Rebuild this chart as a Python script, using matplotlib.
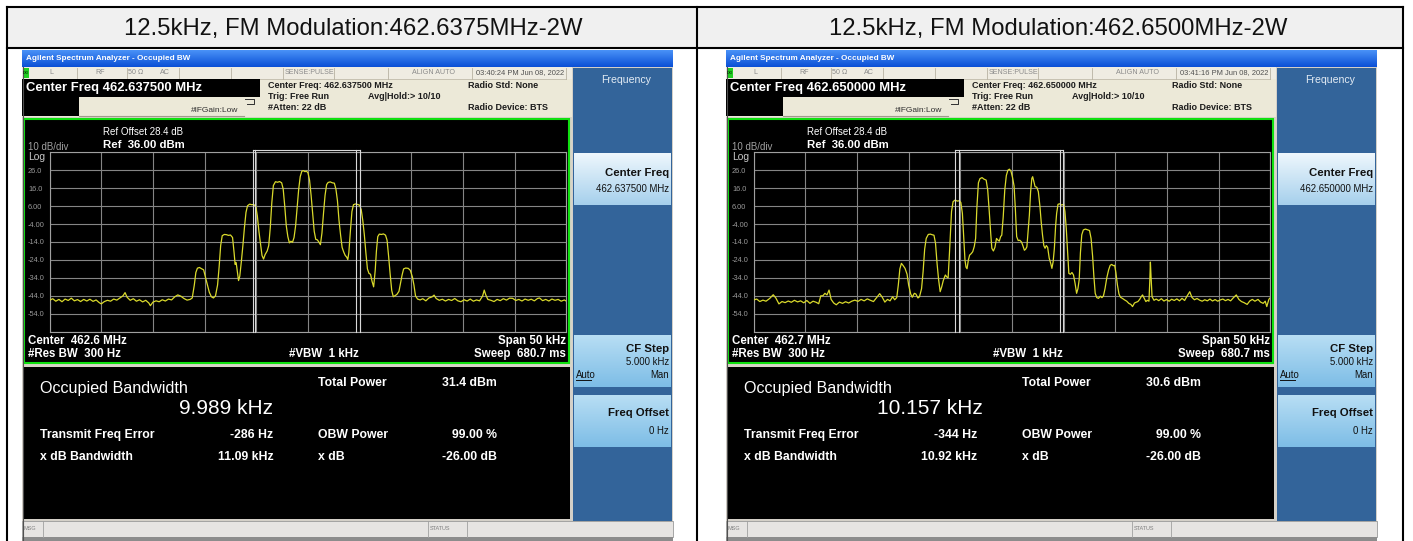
import numpy as np
import matplotlib
matplotlib.use("Agg")
import matplotlib.pyplot as plt
from matplotlib.patches import Rectangle
from matplotlib.colors import to_rgb

plt.rcParams['font.family'] = ['Liberation Sans', 'DejaVu Sans']

# ---------------- data ----------------
panel_titles = ["12.5kHz, FM Modulation:462.6375MHz-2W",
                "12.5kHz, FM Modulation:462.6500MHz-2W"]
center_freqs = ["462.637500 MHz", "462.650000 MHz"]
center_short = ["462.6 MHz", "462.7 MHz"]
timestamps = ["03:40:24 PM Jun 08, 2022", "03:41:16 PM Jun 08, 2022"]
obw_values = ["9.989 kHz", "10.157 kHz"]
freq_errors = ["-286 Hz", "-344 Hz"]
total_powers = ["31.4 dBm", "30.6 dBm"]
xdb_bandwidths = ["11.09 kHz", "10.92 kHz"]
obw_power = "99.00 %"
x_db = "-26.00 dB"
ref_level = 36.0
db_per_div = 10
span_khz = 50
y_tick_labels = ["26.0", "16.0", "6.00", "-4.00", "-14.0", "-24.0", "-34.0", "-44.0", "-54.0"]
marker_khz = [[-5.34, -5.13, 4.61, 5.03], [-5.49, -5.15, 4.63, 4.90]]

trace1_khz = [
    -25.0, -24.7, -24.4, -24.1, -23.8, -23.5, -23.2, -22.9, -22.6, -22.3,
    -22.0, -21.7, -21.4, -21.1, -20.8, -20.5, -20.2, -20.0, -19.7, -19.4,
    -19.1, -18.8, -18.5, -18.2, -17.9, -17.7, -17.5, -17.2, -16.9, -16.6,
    -16.3, -16.0, -15.7, -15.4, -15.25, -15.0, -14.7, -14.4, -14.1, -13.8,
    -13.5, -13.2, -12.9, -12.6, -12.3, -12.0, -11.7, -11.4, -11.2,
    -11.0, -10.85, -10.7, -10.5, -10.3, -10.1, -9.95, -9.75, -9.55, -9.35, -9.15, -8.95, -8.75,
    -8.6, -8.45, -8.3, -8.1, -7.9, -7.7, -7.5, -7.3, -7.15, -7.05, -6.95, -6.85, -6.72, -6.6, -6.45, -6.3,
    -6.15, -6.0, -5.85, -5.65, -5.45, -5.25, -5.05, -4.9, -4.75, -4.6, -4.45, -4.3, -4.15, -3.95, -3.8,
    -3.65, -3.5, -3.35, -3.15, -2.95, -2.75, -2.55, -2.4, -2.25, -2.1, -1.95, -1.8, -1.65, -1.5, -1.35, -1.2,
    -1.05, -0.9, -0.75, -0.6, -0.45, -0.3, -0.15, 0.0, 0.15, 0.3, 0.45, 0.6, 0.75, 0.9, 1.05, 1.2, 1.35, 1.5, 1.65,
    1.8, 1.95, 2.15, 2.35, 2.55, 2.7, 2.85, 3.0, 3.15, 3.3, 3.45, 3.6, 3.75, 3.85, 3.95, 4.1,
    4.25, 4.4, 4.6, 4.8, 5.0, 5.15, 5.3, 5.45, 5.6, 5.75, 5.9, 6.05, 6.2, 6.35, 6.5,
    6.62, 6.75, 6.9, 7.1, 7.3, 7.5, 7.65, 7.8, 7.95, 8.1, 8.25, 8.4, 8.6, 8.8, 8.95,
    9.1, 9.25, 9.45, 9.7, 9.9, 10.1, 10.25, 10.4, 10.6,
    10.85, 11.1, 11.4, 11.7, 12.0, 12.2, 12.4, 12.7, 13.0, 13.3,
    13.6, 13.9, 14.2, 14.5, 14.8, 15.1, 15.4, 15.7, 16.0, 16.3,
    16.6, 16.9, 17.05, 17.2, 17.4, 17.7, 18.0, 18.3, 18.6, 18.9,
    19.2, 19.5, 19.8, 20.1, 20.4, 20.7, 21.0, 21.3, 21.6, 21.9,
    22.2, 22.4, 22.7, 23.0, 23.3, 23.6, 23.9, 24.2, 24.5, 24.8, 25.0]
trace1_dbm = [
    -46.5, -45.6, -47.0, -46.0, -47.3, -45.8, -46.6, -45.3, -46.8, -46.1,
    -47.2, -46.0, -46.9, -45.9, -47.1, -46.3, -47.8, -48.5, -47.2, -46.5,
    -47.0, -45.8, -46.4, -45.2, -44.0, -42.2, -44.8, -46.5, -45.6, -47.0,
    -46.2, -47.4, -46.5, -48.0, -49.5, -47.5, -46.8, -47.3, -46.2, -46.9,
    -45.8, -46.3, -44.6, -43.5, -44.2, -45.5, -46.4, -46.0, -45.2,
    -38.0, -31.0, -28.6, -28.2, -28.9, -29.5, -33.0, -37.5, -42.0, -44.5, -45.2, -44.0, -38.0,
    -28.0, -16.0, -10.5, -9.8, -9.9, -10.3, -10.1, -11.5, -20.0, -26.5, -25.5, -30.0, -35.5, -33.0, -25.0, -16.0,
    -6.0, 2.5, 6.2, 7.1, 6.8, 6.9, 5.8, 0.5, -8.0, -15.0, -21.5, -23.5, -21.0, -19.0, -16.0,
    -6.0, 8.0, 17.5, 19.6, 19.3, 19.7, 19.0, 15.5, 6.0, -5.0, -11.0, -14.5, -13.6, -14.2, -11.5, -5.0,
    5.0, 15.5, 22.5, 25.4, 25.8, 25.2, 25.5, 24.5, 20.5, 12.0, 2.0, -8.0, -12.5, -12.8, -14.0, -15.5, -9.0, 2.0, 12.0,
    18.0, 19.2, 19.5, 19.0, 18.8, 15.5, 9.0, -2.0, -10.0, -17.0, -19.5, -21.5, -22.5, -23.8, -20.0, -8.0,
    3.0, 6.8, 7.2, 6.9, 6.5, 4.0, -2.0, -10.0, -20.0, -29.0, -31.5, -32.0, -36.0, -39.0, -30.0,
    -19.0, -11.0, -9.6, -9.8, -9.5, -10.2, -13.0, -22.0, -32.0, -41.0, -44.5, -44.0, -43.2, -41.5, -37.0,
    -32.5, -29.0, -28.5, -28.7, -29.8, -33.5, -38.0, -44.0, -45.8,
    -46.3, -45.6, -46.8, -45.2, -44.6, -43.6, -45.5, -46.5, -45.9, -46.9,
    -46.0, -46.6, -45.5, -46.8, -47.3, -46.2, -46.9, -45.8, -47.0, -46.3,
    -46.8, -44.0, -40.8, -43.5, -46.0, -46.5, -47.2, -46.0, -46.7, -45.6,
    -46.4, -45.3, -45.4, -46.6, -46.0, -46.9, -45.8, -46.5, -45.9, -46.8,
    -45.5, -45.2, -46.7, -46.0, -46.9, -45.8, -46.5, -46.0, -47.0, -46.3, -47.0]

trace2_khz = [
    -25.0, -24.7, -24.4, -24.1, -23.8, -23.45, -23.1, -22.85, -22.55, -22.25,
    -21.95, -21.65, -21.35, -21.05, -20.75, -20.45, -20.15, -19.85, -19.55, -19.25,
    -18.95, -18.7, -18.5, -18.3, -18.1, -17.9, -17.7, -17.5, -17.25, -17.0,
    -16.7, -16.4, -16.1, -15.8, -15.5, -15.2, -14.9, -14.6, -14.3, -14.0,
    -13.7, -13.4, -13.1, -12.8, -12.55, -12.3, -12.05, -11.8, -11.55, -11.35, -11.15,
    -11.0, -10.85, -10.7, -10.55, -10.35, -10.15, -10.0, -9.8, -9.65, -9.45, -9.3, -9.1, -8.95,
    -8.75, -8.6, -8.45, -8.3, -8.1, -7.9, -7.7, -7.55, -7.4, -7.25, -7.1, -6.95, -6.8, -6.65, -6.45, -6.3, -6.18,
    -6.05, -5.95, -5.85, -5.7, -5.5, -5.3, -5.1, -4.95, -4.8, -4.68, -4.55, -4.45, -4.35, -4.22, -4.1, -3.95, -3.8, -3.65, -3.52,
    -3.4, -3.25, -3.1, -2.9, -2.7, -2.5, -2.35, -2.2, -2.05, -1.95, -1.8, -1.65, -1.5, -1.35, -1.23, -1.1, -0.99,
    -0.85, -0.7, -0.55, -0.4, -0.25, -0.1, 0.05, 0.2, 0.32, 0.45, 0.6, 0.75, 0.92, 1.05, 1.2, 1.32, 1.44, 1.56, 1.68,
    1.8, 1.92, 2.0, 2.1, 2.23, 2.4, 2.55, 2.7, 2.82, 2.95, 3.08, 3.2, 3.32, 3.45, 3.6, 3.75, 3.86, 3.98, 4.1,
    4.22, 4.32, 4.45, 4.6, 4.8, 5.0, 5.12, 5.25, 5.38, 5.5, 5.65, 5.8, 5.95, 6.1, 6.25, 6.38, 6.5,
    6.62, 6.75, 6.9, 7.1, 7.3, 7.5, 7.65, 7.8, 7.92, 8.05, 8.2, 8.37, 8.55, 8.7, 8.85, 9.0, 9.17,
    9.35, 9.5, 9.65, 9.8, 9.93, 10.05, 10.2, 10.35, 10.5, 10.7, 10.9, 11.1, 11.3, 11.5, 11.66, 11.85,
    12.0, 12.18, 12.35, 12.5, 12.63, 12.8, 12.95, 13.1,
    13.25, 13.33, 13.39, 13.45, 13.55, 13.74,
    13.95, 14.2, 14.45, 14.7, 14.95, 15.2, 15.45, 15.7, 15.95, 16.2,
    16.45, 16.7, 16.95, 17.2, 17.4, 17.65, 17.9, 18.15, 18.4, 18.65,
    18.9, 19.15, 19.4, 19.65, 19.9, 20.15, 20.4, 20.65, 20.9, 21.15,
    21.4, 21.7, 21.95, 22.2, 22.45, 22.75, 23.0, 23.25, 23.5, 23.8,
    24.05, 24.3, 24.5, 24.65, 24.85, 25.0]
trace2_dbm = [
    -46.3, -45.8, -47.2, -46.4, -47.0, -45.5, -43.4, -45.2, -48.5, -47.2,
    -47.8, -46.9, -47.6, -46.5, -47.4, -46.8, -47.9, -46.6, -48.2, -47.0,
    -47.6, -48.4, -44.0, -44.0, -42.6, -43.5, -40.8, -46.0, -48.0, -49.0,
    -47.5, -48.2, -47.3, -48.0, -47.0, -46.4, -47.1, -46.0, -46.8, -45.7,
    -46.5, -47.2, -45.0, -42.8, -44.8, -47.5, -46.0, -46.8, -44.5, -46.2, -45.0,
    -38.0, -29.0, -25.9, -27.0, -28.7, -32.0, -38.0, -43.0, -44.8, -42.6, -43.0, -45.2, -44.5,
    -40.0, -30.5, -18.0, -12.0, -9.8, -9.6, -10.0, -10.2, -14.7, -26.0, -35.0, -41.7, -39.0, -35.5, -32.4, -33.5, -34.0,
    -20.0, -8.0, 3.0, 8.5, 9.4, 8.8, 9.0, 8.0, 2.0, -10.0, -24.0, -28.0, -28.9, -24.0, -21.3, -20.5, -19.4, -16.5, -12.0,
    5.0, 19.0, 21.3, 21.9, 21.0, 20.5, 15.0, 3.0, -10.0, -17.5, -19.0, -17.0, -12.0, -13.0, -13.5, -11.0, -10.2,
    0.0, 15.0, 23.0, 26.0, 26.6, 25.5, 22.0, 17.2, 5.0, -11.0, -13.2, -13.0, -14.0, -16.0, -18.6, -18.0, -16.7, -8.0, 1.0,
    14.0, 21.5, 22.4, 20.0, 16.9, 16.5, 14.0, 6.0, -2.5, -10.0, -16.0, -17.5, -16.0, -17.0, -23.0, -26.0, -28.7, -25.0, -17.5,
    -5.0, 2.0, 7.0, 7.3, 6.6, 7.0, 3.0, -6.4, -20.0, -31.5, -32.0, -31.0, -32.4, -37.0, -42.6, -40.0, -35.0,
    -20.0, -10.0, -7.3, -6.8, -7.2, -7.6, -12.0, -22.0, -33.0, -42.6, -45.0, -45.4, -44.2, -45.0, -44.0, -40.0, -34.0,
    -29.5, -27.0, -26.5, -27.2, -27.0, -31.0, -38.0, -43.0, -44.8, -45.5, -46.3, -47.0, -48.2, -48.8, -50.0, -48.0,
    -47.6, -47.2, -46.0, -44.5, -43.5, -45.5, -47.2, -46.5,
    -47.0, -36.0, -25.2, -33.0, -44.5, -46.5,
    -45.8, -46.7, -45.6, -46.9, -46.1, -47.0, -45.9, -46.6, -45.7, -46.8,
    -45.4, -46.6, -44.0, -41.7, -44.8, -46.2, -45.5, -46.4, -47.0, -46.2,
    -46.8, -45.8, -46.9, -46.1, -47.0, -46.3, -45.8, -46.7, -46.0, -46.8,
    -45.2, -43.5, -46.0, -47.2, -47.8, -48.8, -46.9, -46.0, -47.0, -46.0,
    -47.5, -48.2, -47.0, -50.0, -46.0, -45.0]

traces_khz = [trace1_khz, trace2_khz]
traces_dbm = [trace1_dbm, trace2_dbm]

# ---------------- figure ----------------
W, H = 1413, 541
fig = plt.figure(figsize=(W / 100, H / 100), dpi=100)
bg = fig.add_axes([0, 0, 1, 1])
bg.set_xlim(0, W)
bg.set_ylim(H, 0)
bg.axis('off')


def rect(x, y, w, h, fc, ec='none', lw=0, z=1):
    bg.add_patch(Rectangle((x, y), w, h, facecolor=fc, edgecolor=ec, linewidth=lw, zorder=z))


def vgrad(x, y, w, h, c_top, c_bot, z=1.5):
    t = np.linspace(0, 1, 64)[:, None, None]
    arr = (1 - t) * np.array(to_rgb(c_top)) + t * np.array(to_rgb(c_bot))
    bg.imshow(arr, extent=(x, x + w, y + h, y), aspect='auto', interpolation='bilinear', zorder=z)


def tx(x, y, s, size, color='white', weight='normal', ha='left', va='center', z=5, **kw):
    bg.text(x, y, s, fontsize=size, color=color, fontweight=weight, ha=ha, va=va, zorder=z, **kw)


# header row of the table
rect(7, 7, 1396, 41, '#f0f0f0', z=1)
for i, cx in enumerate([353, 1058]):
    tx(cx, 28.5, panel_titles[i], 17.2, color='#111111', ha='center')
lw_tab = 1.5
bg.plot([7, 1403], [7, 7], color='black', lw=lw_tab, zorder=6)
bg.plot([7, 1403], [48, 48], color='black', lw=lw_tab, zorder=6)
for xv in [7, 697, 1403]:
    bg.plot([xv, xv], [7, H], color='black', lw=lw_tab, zorder=6)


def draw_screen(i, X0):
    # background
    rect(X0, 50, 651, 491, '#d4d0c8', z=1)
    # title bar
    vgrad(X0, 50, 651, 17, '#4a92f7', '#0a4fd6')
    tx(X0 + 3.5, 58.5, "Agilent Spectrum Analyzer - Occupied BW", 5.9, weight='bold')
    # status row
    rect(X0, 67, 550, 12, '#efece2', z=2)
    for sx in [55, 105, 157, 209, 260.5, 312, 366, 450, 544]:
        bg.plot([X0 + sx, X0 + sx], [67.5, 78.5], color='#b8b2a2', lw=0.6, zorder=3)
    bg.plot([X0, X0 + 544], [78.8, 78.8], color='#b8b2a2', lw=0.5, zorder=3)
    rect(X0 + 0.5, 68, 6.5, 10, '#22d022', z=3)
    tx(X0 + 3.7, 73, "LXI", 2.6, color='#003300', ha='center', weight='bold')
    for s, sx in [("L", 29.5), ("RF", 78), ("50 \u03a9", 114), ("AC", 143),
                  ("SENSE:PULSE", 287), ("ALIGN AUTO", 412)]:
        tx(X0 + sx, 73, s, 5.1, color='#8a8a8a', ha='center')
    tx(X0 + 498, 73, timestamps[i], 5.4, color='#505050', ha='center')
    # info area
    rect(X0, 79, 550, 39, '#ece9d8', z=2)
    rect(X0, 79, 238, 18, 'black', z=3)
    tx(X0 + 3.5, 88, "Center Freq " + center_freqs[i], 9.4, weight='bold')
    rect(X0, 97, 57, 19, 'black', z=3)
    bg.plot([X0 + 57, X0 + 222], [116.3, 116.3], color='#a09a8c', lw=0.8, zorder=3)
    tx(X0 + 193, 111, "#IFGain:Low", 6.0, color='#303030', ha='center')
    bg.plot([X0 + 223, X0 + 232, X0 + 232, X0 + 225], [99, 99, 104, 104], color='#303030', lw=0.7, zorder=4)
    tx(X0 + 245.5, 85, "Center Freq: " + center_freqs[i], 6.5, color='#1c1c1c', weight='bold')
    tx(X0 + 245.5, 96.5, "Trig: Free Run", 6.5, color='#1c1c1c', weight='bold')
    tx(X0 + 245.5, 107.5, "#Atten: 22 dB", 6.5, color='#1c1c1c', weight='bold')
    tx(X0 + 346, 96.5, "Avg|Hold:> 10/10", 6.5, color='#1c1c1c', weight='bold')
    tx(X0 + 446, 85, "Radio Std: None", 6.5, color='#1c1c1c', weight='bold')
    tx(X0 + 446, 107.5, "Radio Device: BTS", 6.5, color='#1c1c1c', weight='bold')
    # graph frame
    rect(X0, 117, 550, 250, '#d8d4c8', z=2)
    rect(X0 + 1.5, 118.5, 545.5, 244, 'black', ec='#10e010', lw=1.5, z=3)
    tx(X0 + 81, 132, "Ref Offset 28.4 dB", 7.0)
    tx(X0 + 81, 145, "Ref  36.00 dBm", 8.2, weight='bold')
    tx(X0 + 6, 146.5, "10 dB/div", 7.0, color='#a0a0a0')
    tx(X0 + 6, 156.5, "Log", 7.4, color='#c8c8c8')
    tx(X0 + 6, 341, "Center  " + center_short[i], 8.3, weight='bold')
    tx(X0 + 6, 354, "#Res BW  300 Hz", 8.3, weight='bold')
    tx(X0 + 301.5, 354, "#VBW  1 kHz", 8.3, weight='bold', ha='center')
    tx(X0 + 544, 341, "Span %d kHz" % span_khz, 8.3, weight='bold', ha='right')
    tx(X0 + 544, 354, "Sweep  680.7 ms", 8.3, weight='bold', ha='right')
    # results panel
    rect(X0 + 1.5, 367, 546.5, 152, 'black', z=3)
    tx(X0 + 17.5, 388.5, "Occupied Bandwidth", 11.6)
    tx(X0 + 204, 408.5, obw_values[i], 15.0, ha='center')
    tx(X0 + 296, 383.5, "Total Power", 8.8, weight='bold')
    tx(X0 + 475, 383.5, total_powers[i], 8.8, weight='bold', ha='right')
    tx(X0 + 17.5, 435, "Transmit Freq Error", 8.8, weight='bold')
    tx(X0 + 251.5, 435, freq_errors[i], 8.8, weight='bold', ha='right')
    tx(X0 + 296, 435, "OBW Power", 8.8, weight='bold')
    tx(X0 + 475, 435, obw_power, 8.8, weight='bold', ha='right')
    tx(X0 + 17.5, 456.5, "x dB Bandwidth", 8.8, weight='bold')
    tx(X0 + 251.5, 456.5, xdb_bandwidths[i], 8.8, weight='bold', ha='right')
    tx(X0 + 296, 456.5, "x dB", 8.8, weight='bold')
    tx(X0 + 475, 456.5, x_db, 8.8, weight='bold', ha='right')
    # softkey panel
    rect(X0 + 551, 68, 99, 453, '#33649a', z=2)
    tx(X0 + 604, 80, "Frequency", 7.6, color='#e4ecf4', ha='center')
    vgrad(X0 + 552, 153, 97, 52, '#eef7fd', '#a6d0ec', z=3)
    tx(X0 + 647, 172.5, "Center Freq", 8.2, color='#111111', weight='bold', ha='right')
    tx(X0 + 647, 189, center_freqs[i], 6.9, color='#111111', ha='right')
    vgrad(X0 + 552, 335, 97, 52, '#b8def4', '#7dbde6', z=3)
    tx(X0 + 647, 349, "CF Step", 8.2, color='#111111', weight='bold', ha='right')
    tx(X0 + 647, 362, "5.000 kHz", 6.9, color='#111111', ha='right')
    tx(X0 + 554, 375, "Auto", 6.9, color='#111111')
    bg.plot([X0 + 554, X0 + 569], [379.5, 379.5], color='#111111', lw=0.7, zorder=5)
    tx(X0 + 647, 375, "Man", 6.9, color='#111111', ha='right')
    vgrad(X0 + 552, 395, 97, 52, '#b8def4', '#7dbde6', z=3)
    tx(X0 + 647, 413, "Freq Offset", 8.2, color='#111111', weight='bold', ha='right')
    tx(X0 + 647, 431, "0 Hz", 6.9, color='#111111', ha='right')
    # message bar
    rect(X0, 521, 651, 16, '#e6e4e2', ec='#9a9a9a', lw=0.6, z=2)
    rect(X0, 537, 651, 4, '#8c8c8c', z=2)
    for sx in [21, 405.6, 444.7]:
        bg.plot([X0 + sx, X0 + sx], [521, 537], color='#a0a0a0', lw=0.6, zorder=3)
    tx(X0 + 2, 529, "MSG", 4.0, color='#808080')
    tx(X0 + 408, 529, "STATUS", 4.0, color='#808080')
    bg.plot([X0 + 0.5, X0 + 0.5], [67, H], color='#505050', lw=0.8, zorder=4)

    # spectrum plot
    ax = fig.add_axes([(X0 + 27.6) / W, 1 - (152.3 + 179.4) / H, 516.8 / W, 179.4 / H])
    ax.set_zorder(10)
    ax.set_facecolor('black')
    ax.set_xlim(-span_khz / 2, span_khz / 2)
    bottom = ref_level - 10 * db_per_div
    ax.set_ylim(bottom, ref_level)
    ax.set_xticks(np.arange(-span_khz / 2, span_khz / 2 + 1, span_khz / 10))
    yt = np.arange(bottom, ref_level + 1, db_per_div)
    ax.set_yticks(yt)
    ax.set_yticklabels([''] + y_tick_labels[::-1] + [''])
    ax.grid(True, color='#858585', lw=0.8)
    ax.tick_params(length=0, labelbottom=False)
    ax.tick_params(axis='y', pad=15.5, labelsize=5.3, labelcolor='#9a9a9a')
    for lab in ax.get_yticklabels():
        lab.set_horizontalalignment('left')
    for sp in ax.spines.values():
        sp.set_color('#a0a0a0')
        sp.set_linewidth(0.8)
    ax.plot(traces_khz[i], traces_dbm[i], color='#dada2c', lw=0.9, zorder=4)
    mk = marker_khz[i]
    for m in mk:
        ax.axvline(m, ymin=0, ymax=1.013, color='#d8d8d8', lw=0.8, clip_on=False, zorder=5)
    ax.plot([mk[0], mk[-1]], [ref_level + 1.3, ref_level + 1.3], color='#d8d8d8', lw=0.8,
            clip_on=False, zorder=5)


draw_screen(0, 22)
draw_screen(1, 726)

bg.set_xlim(0, W)
bg.set_ylim(H, 0)
fig.savefig("out.png", dpi=100)
